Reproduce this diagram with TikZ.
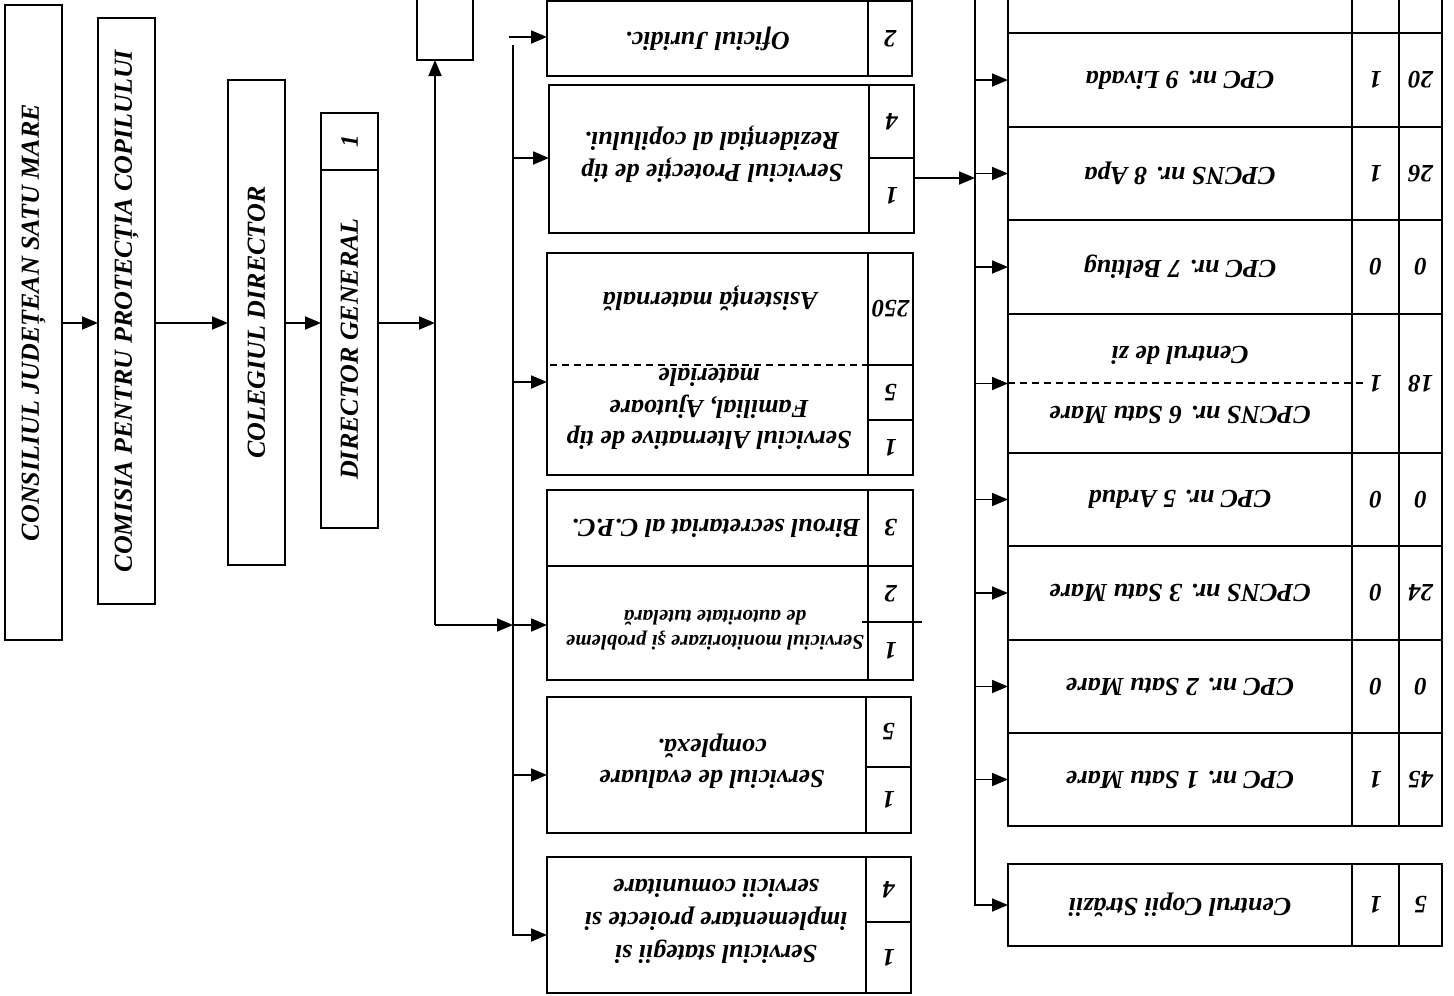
\documentclass[tikz,border=0pt]{standalone}
\usepackage{fontspec}
\setmainfont{Liberation Serif}
\usetikzlibrary{arrows.meta,calc}
\newcommand{\trow}[6]{%
  \node[box,minimum width=344pt,minimum height=#3pt] (#1) at (1008,#2) {};
  \node[box,minimum width=47pt,minimum height=#3pt] (#1a) at (1352,#2) {};
  \node[box,minimum width=43pt,minimum height=#3pt] (#1b) at (1399,#2) {};
  \node[rt] at (#1) {#4};
  \node[num] at (#1a) {#5};
  \node[num] at (#1b) {#6};}
\begin{document}
\begin{tikzpicture}[x=1pt,y=-1pt,
  line/.style={line width=1.8pt},
  box/.style={draw,line width=1.8pt,inner sep=0pt,outer sep=0pt,anchor=north west},
  arr/.style={line width=1.8pt,-{Triangle[length=16pt,width=13pt]}},
  lt/.style={font=\fontsize{26}{30}\selectfont\bfseries\itshape,rotate=90,inner sep=0pt},
  mt/.style={font=\fontsize{26}{31.5}\selectfont\bfseries\itshape,rotate=180,align=center,inner sep=0pt},
  st/.style={font=\fontsize{21}{25}\selectfont\bfseries\itshape,rotate=180,align=center,inner sep=0pt},
  rt/.style={font=\fontsize{26}{30}\selectfont\bfseries\itshape,rotate=180,inner sep=0pt},
  num/.style={font=\fontsize{25}{28}\selectfont\bfseries\itshape,rotate=180,inner sep=0pt},
  lnum/.style={font=\fontsize{25}{28}\selectfont\bfseries\itshape,rotate=90,inner sep=0pt},
]
\useasboundingbox (0,0) rectangle (1454,996);
\fill[white] (0,0) rectangle (1454,996);

% ---- left chain
\node[box,minimum width=57pt,minimum height=635pt] (cons) at (5,5) {};
\node[lt] at (cons) {CONSILIUL JUDEȚEAN SATU MARE};
\node[box,minimum width=57pt,minimum height=586pt] (comisia) at (98,18) {};
\node[lt] at (comisia) {COMISIA PENTRU PROTECȚIA COPILULUI};
\node[box,minimum width=57pt,minimum height=485pt] (colegiul) at (228,80) {};
\node[lt] at (colegiul) {COLEGIUL DIRECTOR};
\node[box,minimum width=57pt,minimum height=57pt] (dirnum) at (321,113) {};
\node[lnum] at (dirnum) {1};
\node[box,minimum width=57pt,minimum height=358pt] (dirgen) at (321,170) {};
\node[lt] at (dirgen) {DIRECTOR GENERAL};
\node[box,minimum width=56pt,minimum height=70pt] (topbox) at (417,-10) {};

\coordinate (row) at (0,323);
\draw[arr] (cons.east|-row) -- (comisia.west|-row);
\draw[arr] (comisia.east|-row) -- (colegiul.west|-row);
\draw[arr] (colegiul.east|-row) -- (dirgen.west|-row);
\coordinate (j1) at (435,323);
\draw[arr] (dirgen.east|-row) -- (j1);
\coordinate (j2) at (435,625);
\draw[arr] (j2) -- (j2 |- topbox.south);

% ---- middle column
\node[box,minimum width=321pt,minimum height=75pt] (ofj) at (547,1) {};
\node[box,minimum width=44pt,minimum height=75pt] (ofjn) at (868,1) {};
\node[mt] at (ofj) {Oficiul Juridic.};
\node[num] at (ofjn) {2};

\node[box,minimum width=320pt,minimum height=148pt] (prot) at (549,85) {};
\node[box,minimum width=45pt,minimum height=73pt] (protn4) at (869,85) {};
\node[box,minimum width=45pt,minimum height=75pt] (protn1) at (869,158) {};
\node[mt] at (712,154) {Serviciul Protecție de tip\\Rezidențial al copilului.};
\node[num] at (protn4) {4};
\node[num] at (protn1) {1};

\node[box,minimum width=321pt,minimum height=222pt] (alt) at (547,253) {};
\node[box,minimum width=45pt,minimum height=112pt] (altn250) at (868,253) {};
\node[box,minimum width=45pt,minimum height=55pt] (altn5) at (868,365) {};
\node[box,minimum width=45pt,minimum height=55pt] (altn1) at (868,420) {};
\draw[line,dash pattern=on 7pt off 5pt] (550,365) -- (868,365);
\node[mt] at (710,298) {Asistență maternală};
\node[mt] at (709,409) {Serviciul Alternative de tip\\Familial, Ajutoare\\materiale};
\node[num] at (altn250) {250};
\node[num] at (altn5) {5};
\node[num] at (altn1) {1};

\node[box,minimum width=321pt,minimum height=76pt] (biroul) at (547,490) {};
\node[box,minimum width=321pt,minimum height=114pt] (monit) at (547,566) {};
\node[box,minimum width=45pt,minimum height=76pt] (birn3) at (868,490) {};
\node[box,minimum width=45pt,minimum height=56pt] (monn2) at (868,566) {};
\node[box,minimum width=45pt,minimum height=58pt] (monn1) at (868,622) {};
\draw[line] (862,622) -- (922,622);
\node[mt] at (716,528) {Biroul secretariat al C.P.C.};
\node[st] at (715,630) {Serviciul monitorizare şi probleme\\de autoritate tutelară};
\node[num] at (birn3) {3};
\node[num] at (monn2) {2};
\node[num] at (monn1) {1};

\node[box,minimum width=319pt,minimum height=136pt] (eval) at (547,697) {};
\node[box,minimum width=45pt,minimum height=70pt] (evaln5) at (866,697) {};
\node[box,minimum width=45pt,minimum height=66pt] (evaln1) at (866,767) {};
\node[mt] at (712,761) {Serviciul de evaluare\\complexă.};
\node[num] at (evaln5) {5};
\node[num] at (evaln1) {1};

\node[box,minimum width=319pt,minimum height=136pt] (strat) at (547,857) {};
\node[box,minimum width=45pt,minimum height=65pt] (stratn4) at (866,857) {};
\node[box,minimum width=45pt,minimum height=71pt] (stratn1) at (866,922) {};
\node[mt,font=\fontsize{26}{33}\selectfont\bfseries\itshape] at (716,921) {Serviciul stategii si\\implementare proiecte si\\servicii comunitare};
\node[num] at (stratn4) {4};
\node[num] at (stratn1) {1};

% ---- bus 2
\coordinate (b2) at (513,625);
\draw[arr] (j2) -- (b2);
\draw[arr] (b2) -- (b2 -| monit.west);
\coordinate (b2top) at (513,45);
\coordinate (b2bot) at (513,935);
\draw[arr] (b2top) -- (b2bot) -- (b2bot -| strat.west);
\coordinate (a0) at (509,37);
\draw[arr] (a0) -- (a0 -| ofj.west);
\coordinate (a1) at (513,158);
\draw[arr] (a1) -- (a1 -| prot.west);
\coordinate (a2) at (513,382);
\draw[arr] (a2) -- (a2 -| alt.west);
\coordinate (a4) at (513,775);
\draw[arr] (a4) -- (a4 -| eval.west);

% ---- right table
\trow{r0}{-20}{53}{}{}{}
\trow{r9}{33}{94}{CPC nr. 9 Livada}{1}{20}
\trow{r8}{127}{93}{CPCNS nr. 8 Apa}{1}{26}
\trow{r7}{220}{94}{CPC nr. 7 Beltiug}{0}{0}
\trow{r6}{314}{139}{}{1}{18}
\node[rt] at (1180,355) {Centrul de zi};
\node[rt] at (1180,415) {CPCNS nr. 6 Satu Mare};
\draw[line,dash pattern=on 7pt off 5pt] (1008,383) -- (1366,383);
\trow{r5}{453}{93}{CPC nr. 5 Ardud}{0}{0}
\trow{r3}{546}{94}{CPCNS nr. 3 Satu Mare}{0}{24}
\trow{r2}{640}{93}{CPC nr. 2 Satu Mare}{0}{0}
\trow{r1}{733}{93}{CPC nr. 1 Satu Mare}{1}{45}
\trow{ccs}{864}{82}{Centrul Copii Străzii}{1}{5}

% ---- bus 3
\coordinate (j3) at (975,178);
\draw[arr] (protn1.east |- j3) -- (j3);
\coordinate (b3top) at (975,-10);
\draw[arr] (b3top) |- (ccs.west);
\draw[arr] (b3top |- r9.west) -- (r9.west);
\draw[arr] (b3top |- r8.west) -- (r8.west);
\draw[arr] (b3top |- r7.west) -- (r7.west);
\draw[arr] (b3top |- r6.west) -- (r6.west);
\draw[arr] (b3top |- r5.west) -- (r5.west);
\draw[arr] (b3top |- r3.west) -- (r3.west);
\draw[arr] (b3top |- r2.west) -- (r2.west);
\draw[arr] (b3top |- r1.west) -- (r1.west);
\end{tikzpicture}
\end{document}
